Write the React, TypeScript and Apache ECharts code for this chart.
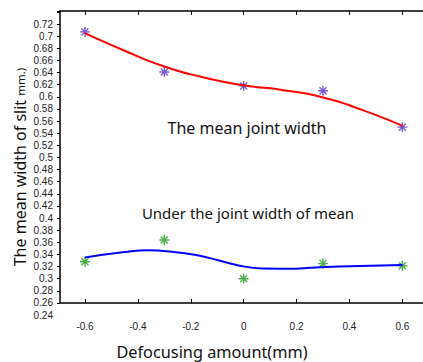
import React, { useEffect, useRef } from "react";
import * as echarts from "echarts";

const xTicks = [-0.6, -0.4, -0.2, 0, 0.2, 0.4, 0.6];
const sampleX = [-0.6, -0.3, 0, 0.3, 0.6];
const meanValues = [0.707, 0.641, 0.618, 0.61, 0.55];
const underValues = [0.328, 0.364, 0.3, 0.325, 0.3215];
const meanFitX = [-0.6, -0.45, -0.3, -0.15, 0, 0.15, 0.3, 0.45, 0.6];
const meanFitY = [0.705, 0.676, 0.65, 0.632, 0.619, 0.611, 0.599, 0.578, 0.552];
const underFitX = [-0.6, -0.45, -0.36, -0.27, -0.18, -0.1, -0.02, 0.07, 0.2, 0.25, 0.4, 0.6];
const underFitY = [0.335, 0.344, 0.347, 0.3445, 0.339, 0.331, 0.322, 0.317, 0.3166, 0.318, 0.3205, 0.3226];

const xLabel = "Defocusing amount(mm)";
const yLabelMain = "The mean width of slit ";
const yLabelUnit = "mm.)";
const noteMean = "The mean joint width";
const noteUnder = "Under the joint width of mean";

const STAR = "path://M0,-10L0,10M-10,0L10,0M-7,-7L7,7M-7,7L7,-7";
const FONT = "'Noto Sans', 'Open Sans', sans-serif";
const TICKFONT = "'Liberation Sans', Arial, sans-serif";

export default function App() {
  const ref = useRef<HTMLDivElement>(null);
  useEffect(() => {
    const chart = echarts.init(ref.current!, null, { renderer: "svg" });
    const X_MIN = -0.6945;
    const X_MAX = 0.678;
    const Y_MAX = 0.7415;
    chart.setOption({
      animation: false,
      grid: [
        { left: 60, top: 11, right: 0, height: 292 },
        { left: 60, top: 11, right: 0, height: 304.1 },
      ],
      xAxis: [
        {
          type: "value",
          gridIndex: 0,
          position: "bottom",
          min: X_MIN,
          max: X_MAX,
          splitLine: { show: false },
          axisLine: { onZero: false, lineStyle: { color: "#000", width: 1.5 } },
          axisTick: { inside: true, length: 4, customValues: xTicks, lineStyle: { color: "#000", width: 1 } },
          axisLabel: {
            customValues: xTicks,
            margin: 18,
            fontSize: 10,
            fontFamily: TICKFONT,
            color: "#222",
            formatter: (v: number) => String(parseFloat(v.toFixed(2))),
          },
        },
        {
          type: "value",
          gridIndex: 0,
          position: "top",
          min: X_MIN,
          max: X_MAX,
          splitLine: { show: false },
          axisLine: { onZero: false, lineStyle: { color: "#000", width: 1.5 } },
          axisTick: { inside: true, length: 4, customValues: xTicks, lineStyle: { color: "#000", width: 1 } },
          axisLabel: { show: false },
        },
        {
          type: "value",
          gridIndex: 1,
          min: X_MIN,
          max: X_MAX,
          show: false,
        },
      ],
      yAxis: [
        {
          type: "value",
          gridIndex: 0,
          min: 0.26,
          max: Y_MAX,
          interval: 0.02,
          splitLine: { show: false },
          axisLine: { show: true, onZero: false, lineStyle: { color: "#000", width: 1.5 } },
          axisTick: { show: true, length: 3, lineStyle: { color: "#000", width: 1 } },
          axisLabel: { show: false },
        },
        {
          type: "value",
          gridIndex: 1,
          min: 0.24,
          max: Y_MAX,
          interval: 0.02,
          splitLine: { show: false },
          axisLine: { show: false, onZero: false },
          axisTick: { show: false },
          axisLabel: {
            margin: 7,
            fontSize: 10,
            fontFamily: TICKFONT,
            color: "#222",
            formatter: (v: number) => (v > 0.73 ? "" : String(parseFloat(v.toFixed(2)))),
          },
        },
      ],
      series: [
        {
          type: "line",
          xAxisIndex: 0,
          yAxisIndex: 0,
          data: meanFitX.map((x, i) => [x, meanFitY[i]]),
          smooth: 0.6,
          showSymbol: false,
          lineStyle: { color: "#ff0000", width: 2 },
        },
        {
          type: "line",
          xAxisIndex: 0,
          yAxisIndex: 0,
          data: underFitX.map((x, i) => [x, underFitY[i]]),
          smooth: 0.5,
          showSymbol: false,
          lineStyle: { color: "#0000ff", width: 2 },
        },
        {
          type: "scatter",
          xAxisIndex: 0,
          yAxisIndex: 0,
          data: sampleX.map((x, i) => [x, meanValues[i]]),
          symbol: STAR,
          symbolSize: 10,
          itemStyle: { color: "rgba(0,0,0,0)", borderColor: "#5a2fc8", borderWidth: 1.4 },
        },
        {
          type: "scatter",
          xAxisIndex: 0,
          yAxisIndex: 0,
          data: sampleX.map((x, i) => [x, underValues[i]]),
          symbol: STAR,
          symbolSize: 10,
          itemStyle: { color: "rgba(0,0,0,0)", borderColor: "#1f9a1f", borderWidth: 1.4 },
        },
      ],
      graphic: [
        {
          type: "text",
          x: 20,
          y: 167,
          rotation: Math.PI / 2,
          style: {
            text: `{a|${yLabelMain}}{b|${yLabelUnit}}`,
            align: "center",
            verticalAlign: "middle",
            rich: {
              a: { fontSize: 16, fontFamily: FONT, fill: "#111" },
              b: { fontSize: 11.5, fontFamily: FONT, fill: "#111" },
            },
          },
        },
        {
          type: "text",
          x: 212,
          y: 352,
          style: { text: xLabel, align: "center", verticalAlign: "middle", fontSize: 16.3, fontFamily: FONT, fill: "#111" },
        },
        {
          type: "text",
          x: 247,
          y: 128,
          style: { text: noteMean, align: "center", verticalAlign: "middle", fontSize: 16, fontFamily: FONT, fill: "#111" },
        },
        {
          type: "text",
          x: 248,
          y: 213,
          style: { text: noteUnder, align: "center", verticalAlign: "middle", fontSize: 15, fontFamily: FONT, fill: "#111" },
        },
      ],
    });
    return () => chart.dispose();
  }, []);
  return <div ref={ref} style={{ position: "fixed", left: 0, top: 0, width: 423, height: 362, background: "#fff" }} />;
}
